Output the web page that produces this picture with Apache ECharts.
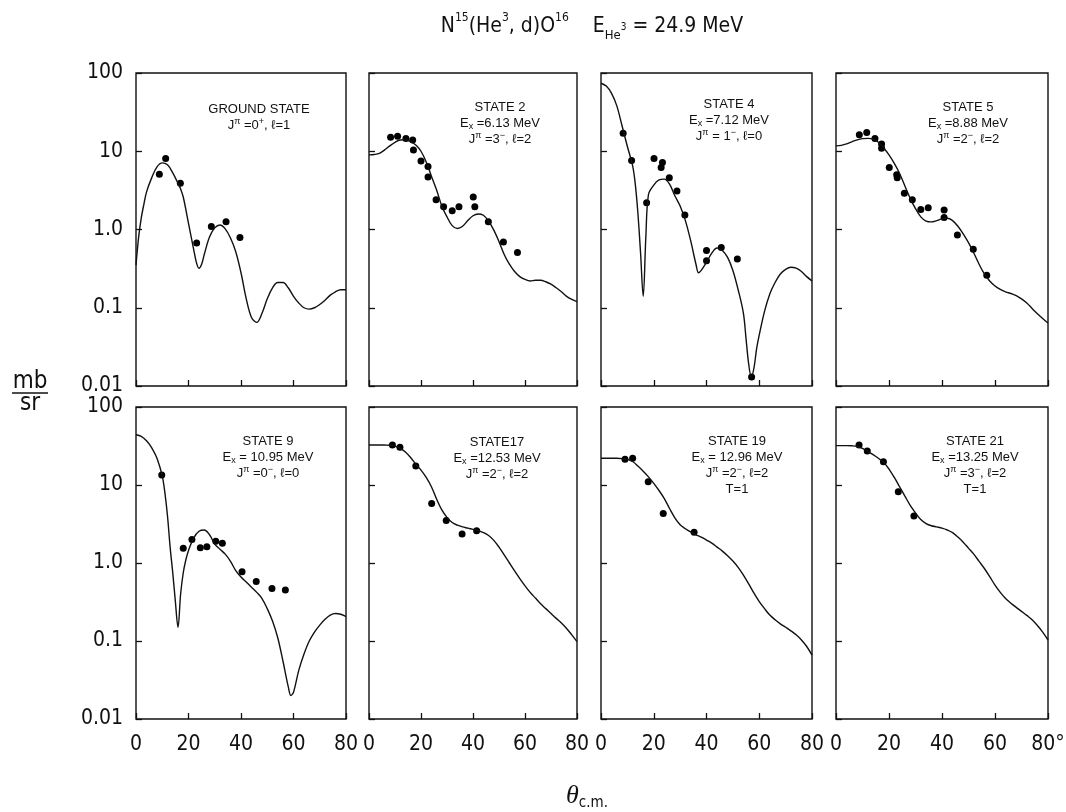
<!DOCTYPE html>
<html>
<head>
<meta charset="utf-8">
<script src="https://cdn.jsdelivr.net/npm/echarts@6/dist/echarts.min.js"></script>
<style>
  html, body { margin: 0; background: #fff; }
  #chart { width: 1066px; height: 812px; }
</style>
</head>
<body>
<div id="chart"></div>
<script>
// angle (deg, c.m.) vs d(sigma)/d(omega) in mb/sr
const gsCurve = [[0,0.35],[1,0.8],[2,1.4],[3,2.1],[4,3.0],[6,4.6],[8,6.3],[10,7.1],[12,6.7],[14,5.3],[16,3.9],[17,3.3],[18,2.6],[20,1.2],[22,0.55],[23,0.38],[24,0.32],[25,0.36],[26,0.48],[28,0.8],[30,1.05],[32,1.14],[34,1.02],[36,0.78],[38,0.52],[40,0.28],[42,0.13],[44,0.075],[46,0.065],[48,0.085],[50,0.13],[52,0.18],[54,0.21],[56,0.21],[58,0.18],[60,0.14],[62,0.115],[64,0.1],[66,0.096],[68,0.1],[70,0.11],[72,0.125],[74,0.145],[76,0.16],[78,0.17],[80,0.17]]
const gsPoints = [[8.9,5.1],[11.3,8.1],[16.9,3.9],[23.1,0.67],[28.7,1.09],[34.3,1.26],[39.6,0.79]]

const s2Curve = [[0,9.0],[2,9.1],[4,9.4],[6,10.4],[8,11.7],[10,13],[12,13.9],[14,14],[16,13.3],[18,12],[20,10],[22,7.3],[24,4.8],[26,3.2],[28,2.0],[30,1.45],[32,1.12],[34,1.03],[36,1.1],[38,1.3],[40,1.5],[42,1.58],[44,1.52],[46,1.28],[48,0.98],[50,0.7],[52,0.48],[54,0.36],[56,0.29],[58,0.25],[60,0.23],[62,0.22],[64,0.225],[66,0.225],[68,0.215],[70,0.2],[72,0.18],[74,0.16],[76,0.14],[78,0.128],[80,0.12]]
const s2Points = [[8.3,15.1],[11.0,15.5],[14.2,14.6],[16.8,13.9],[17.1,10.4],[20.0,7.5],[22.7,6.4],[22.7,4.7],[25.8,2.4],[28.7,1.95],[32.0,1.74],[34.6,1.95],[40.1,2.6],[40.7,1.95],[45.9,1.26],[51.7,0.69],[57.1,0.51]]

const s4Curve = [[0,74],[2,68],[4,55],[6,38],[8,21],[10,11.5],[12,6.5],[13,3.8],[14,1.6],[15,0.5],[16,0.14],[17,0.8],[18,2.8],[20,3.7],[22,4.3],[24,4.4],[26,3.8],[28,2.7],[30,2.0],[32,1.3],[34,0.72],[36,0.36],[37,0.28],[38,0.3],[40,0.38],[42,0.5],[44,0.58],[46,0.54],[48,0.44],[50,0.3],[52,0.17],[54,0.085],[55,0.04],[56,0.019],[57,0.013],[58,0.017],[59,0.03],[60,0.045],[62,0.09],[64,0.15],[66,0.21],[68,0.27],[70,0.31],[72,0.33],[74,0.32],[76,0.29],[78,0.25],[80,0.22]]
const s4Points = [[8.4,17],[11.6,7.6],[17.3,2.2],[20.1,8.1],[22.8,6.2],[23.3,7.2],[25.9,4.6],[28.8,3.1],[31.8,1.53],[40.0,0.54],[40.0,0.40],[45.6,0.59],[51.7,0.42],[57.1,0.013]]

const s5Curve = [[0,11.7],[2,11.9],[4,12.4],[6,13.2],[8,14],[10,14.5],[12,14.6],[14,14.3],[16,13],[18,11],[20,9],[22,7],[24,5.2],[26,3.6],[28,2.5],[30,1.85],[32,1.45],[34,1.28],[36,1.25],[38,1.3],[40,1.37],[42,1.39],[44,1.3],[46,1.1],[48,0.88],[50,0.68],[52,0.5],[54,0.36],[56,0.27],[58,0.22],[60,0.19],[62,0.172],[64,0.16],[66,0.152],[68,0.143],[70,0.13],[72,0.115],[74,0.098],[76,0.084],[78,0.073],[80,0.064]]
const s5Points = [[8.8,16.2],[11.6,17.3],[14.7,14.5],[17.2,12.4],[17.2,10.9],[20.1,6.2],[22.9,5.0],[23.1,4.6],[25.8,2.9],[28.8,2.4],[32.0,1.8],[34.8,1.9],[40.8,1.78],[40.8,1.42],[45.8,0.85],[51.8,0.56],[56.9,0.26]]

const s9Curve = [[0,44],[2,42],[4,37],[6,30],[8,22],[10,13],[11,8.0],[12,4.0],[13,1.6],[14,0.75],[15,0.32],[16,0.15],[17,0.4],[18,0.75],[19,1.1],[20,1.45],[22,2.1],[24,2.55],[26,2.65],[28,2.3],[30,1.75],[32,1.5],[34,1.3],[36,1.05],[38,0.8],[40,0.66],[42,0.57],[44,0.49],[46,0.42],[48,0.35],[50,0.26],[52,0.18],[54,0.11],[56,0.055],[58,0.026],[59,0.02],[60,0.022],[62,0.042],[64,0.068],[66,0.1],[68,0.13],[70,0.16],[72,0.19],[74,0.215],[76,0.225],[78,0.22],[80,0.205]]
const s9Points = [[9.8,13.4],[18.0,1.54],[21.3,2.0],[24.5,1.57],[27.0,1.62],[30.4,1.9],[32.9,1.79],[40.4,0.77],[45.8,0.58],[51.8,0.47],[56.9,0.45]]

const s17Curve = [[0,32.6],[2,32.6],[4,32.6],[6,32.5],[8,32.3],[10,31.5],[12,29.5],[14,26.5],[16,22.5],[18,18.5],[20,15.5],[22,12.5],[24,9.5],[26,6.6],[28,4.8],[30,3.85],[32,3.3],[34,3.05],[36,2.9],[38,2.8],[40,2.7],[42,2.6],[44,2.45],[46,2.25],[48,1.95],[50,1.6],[52,1.27],[54,1.0],[56,0.79],[58,0.63],[60,0.51],[62,0.42],[64,0.355],[66,0.3],[68,0.26],[70,0.225],[72,0.195],[74,0.17],[76,0.145],[78,0.12],[80,0.098]]
const s17Points = [[9.0,32.6],[11.9,30.4],[18.0,17.5],[24.1,5.8],[29.7,3.5],[35.8,2.35],[41.4,2.6]]

const s19Curve = [[0,22],[2,22],[4,22],[6,22],[8,21.8],[10,21.3],[12,20],[14,17.5],[16,15],[18,12.7],[20,10.5],[22,8.5],[24,6.7],[26,5.0],[28,3.8],[30,3.1],[32,2.75],[34,2.5],[36,2.3],[38,2.15],[40,1.97],[42,1.8],[44,1.6],[46,1.42],[48,1.24],[50,1.06],[52,0.88],[54,0.7],[56,0.54],[58,0.41],[60,0.32],[62,0.26],[64,0.215],[66,0.187],[68,0.166],[70,0.15],[72,0.135],[74,0.12],[76,0.103],[78,0.085],[80,0.066]]
const s19Points = [[9.1,21.4],[12.0,22],[17.9,11],[23.6,4.3],[35.3,2.47]]

const s21Curve = [[0,32],[2,32],[4,32],[6,31.8],[8,31.2],[10,29.5],[12,27],[14,24.5],[16,22],[18,19.5],[20,16],[22,12.5],[24,9.5],[26,7.2],[28,5.5],[30,4.4],[32,3.6],[34,3.2],[36,3.0],[38,2.9],[40,2.8],[42,2.65],[44,2.45],[46,2.15],[48,1.85],[50,1.55],[52,1.3],[54,1.05],[56,0.85],[58,0.67],[60,0.52],[62,0.42],[64,0.35],[66,0.305],[68,0.27],[70,0.24],[72,0.213],[74,0.187],[76,0.158],[78,0.13],[80,0.103]]
const s21Points = [[8.7,32.6],[11.8,27.3],[17.9,19.9],[23.5,8.2],[29.4,4.0]]

// panel captions
const gsLabel = ['GROUND STATE', 'J{sup|π} =0{sup|+}, ℓ=1']
const s2Label = ['STATE 2', 'E{sub|x} =6.13 MeV', 'J{sup|π} =3{sup|−}, ℓ=2']
const s4Label = ['STATE 4', 'E{sub|x} =7.12 MeV', 'J{sup|π} = 1{sup|−}, ℓ=0']
const s5Label = ['STATE 5', 'E{sub|x} =8.88 MeV', 'J{sup|π} =2{sup|−}, ℓ=2']
const s9Label = ['STATE 9', 'E{sub|x} = 10.95 MeV', 'J{sup|π} =0{sup|−}, ℓ=0']
const s17Label = ['STATE17', 'E{sub|x} =12.53 MeV', 'J{sup|π} =2{sup|−}, ℓ=2']
const s19Label = ['STATE 19', 'E{sub|x} = 12.96 MeV', 'J{sup|π} =2{sup|−}, ℓ=2', 'T=1']
const s21Label = ['STATE 21', 'E{sub|x} =13.25 MeV', 'J{sup|π} =3{sup|−}, ℓ=2', 'T=1']

const xTicks = [0, 20, 40, 60, 80]
const yTickLabels = ['0.01', '0.1', '1.0', '10', '100']

const panels = [
  { curve: gsCurve, points: gsPoints, label: gsLabel },
  { curve: s2Curve, points: s2Points, label: s2Label },
  { curve: s4Curve, points: s4Points, label: s4Label },
  { curve: s5Curve, points: s5Points, label: s5Label },
  { curve: s9Curve, points: s9Points, label: s9Label },
  { curve: s17Curve, points: s17Points, label: s17Label },
  { curve: s19Curve, points: s19Points, label: s19Label },
  { curve: s21Curve, points: s21Points, label: s21Label },
]

// layout (px)
const colLeft = [136, 369, 601, 836]
const colWidth = [210, 208, 211, 212]
const rowTop = [73, 407]
const rowHeight = [313, 312]
const captionX = [259, 500, 729, 968, 268, 497, 737, 975]
const captionY = [101, 99, 96, 99, 433, 434, 433, 433]

const NARROW = '"Liberation Sans Narrow", "DejaVu Sans Condensed", sans-serif'
const PLAIN = '"Liberation Sans", "DejaVu Sans", sans-serif'
const INK = '#111'

const chart = echarts.init(document.getElementById('chart'))

const grids = [], xAxes = [], yAxes = [], series = [], graphics = []

panels.forEach((p, i) => {
  const row = Math.floor(i / 4)
  const col = i % 4
  grids.push({
    show: true,
    left: colLeft[col],
    top: rowTop[row],
    width: colWidth[col],
    height: rowHeight[row],
    borderColor: INK,
    borderWidth: 1.4,
    backgroundColor: 'transparent',
    containLabel: false,
    outerBoundsMode: 'none',
  })
  xAxes.push({
    type: 'value',
    gridIndex: i,
    min: xTicks[0],
    max: xTicks[xTicks.length - 1],
    interval: 20,
    axisLine: { show: false },
    axisTick: { show: true, inside: true, length: 6, lineStyle: { color: INK, width: 1.3 } },
    splitLine: { show: false },
    axisLabel: {
      show: row === 1,
      margin: 15,
      color: INK,
      fontSize: 21,
      fontFamily: NARROW,
      formatter: (v) => (i === 7 && v === 80 ? '80°' : String(v)),
    },
  })
  yAxes.push({
    type: 'log',
    logBase: 10,
    gridIndex: i,
    min: 0.01,
    max: 100,
    axisLine: { show: false },
    axisTick: { show: true, inside: true, length: 6, lineStyle: { color: INK, width: 1.3 } },
    splitLine: { show: false },
    minorTick: { show: false },
    axisLabel: {
      show: col === 0,
      margin: 13,
      color: INK,
      fontSize: 21,
      fontFamily: NARROW,
      formatter: (v) => yTickLabels[Math.round(Math.log10(v)) + 2],
    },
  })
  series.push({
    type: 'line',
    xAxisIndex: i,
    yAxisIndex: i,
    data: p.curve,
    symbol: 'none',
    smooth: 0.35,
    lineStyle: { color: INK, width: 1.4 },
    silent: true,
  })
  series.push({
    type: 'scatter',
    xAxisIndex: i,
    yAxisIndex: i,
    data: p.points,
    symbol: 'circle',
    symbolSize: 7,
    itemStyle: { color: '#000', opacity: 1 },
    silent: true,
  })
  graphics.push({
    type: 'text',
    x: captionX[i],
    y: captionY[i],
    style: {
      text: p.label.join('\n'),
      align: 'center',
      verticalAlign: 'top',
      fontSize: 13,
      fontFamily: PLAIN,
      lineHeight: 16,
      fill: INK,
      rich: {
        sup: { fontSize: 9, lineHeight: 9, verticalAlign: 'top', fontFamily: PLAIN, fill: INK },
        sub: { fontSize: 9, lineHeight: 9, verticalAlign: 'bottom', fontFamily: PLAIN, fill: INK },
      },
    },
  })
})

// figure title
graphics.push({
  type: 'text',
  x: 592,
  y: 27,
  style: {
    text: 'N{sup|15}(He{sup|3}, d)O{sup|16}    E{sub|He}{ss|3} = 24.9 MeV',
    align: 'center',
    verticalAlign: 'middle',
    fontSize: 21,
    lineHeight: 30,
    fontFamily: NARROW,
    fill: INK,
    rich: {
      sup: { fontSize: 12, lineHeight: 13, verticalAlign: 'top', fontFamily: NARROW, fill: INK },
      sub: { fontSize: 13, lineHeight: 13, verticalAlign: 'bottom', fontFamily: NARROW, fill: INK },
      ss: { fontSize: 10, lineHeight: 24, verticalAlign: 'middle', fontFamily: NARROW, fill: INK },
    },
  },
})

// y unit: mb / sr
graphics.push(
  { type: 'text', x: 30, y: 382, style: { text: 'mb', align: 'center', verticalAlign: 'middle', fontSize: 24, fontFamily: NARROW, fill: INK } },
  { type: 'line', shape: { x1: 12, y1: 393, x2: 48, y2: 393 }, style: { stroke: INK, lineWidth: 1.5 } },
  { type: 'text', x: 30, y: 404, style: { text: 'sr', align: 'center', verticalAlign: 'middle', fontSize: 24, fontFamily: NARROW, fill: INK } },
)

// x unit: theta c.m.
graphics.push({
  type: 'text',
  x: 587,
  y: 796,
  style: {
    text: '{t|θ}{s|c.m.}',
    align: 'center',
    verticalAlign: 'middle',
    rich: {
      t: { fontSize: 26, fontStyle: 'italic', fontFamily: '"Liberation Serif", "DejaVu Serif", serif', lineHeight: 30, fill: INK },
      s: { fontSize: 15, fontFamily: NARROW, lineHeight: 14, verticalAlign: 'bottom', fill: INK },
    },
  },
})

chart.setOption({
  animation: false,
  backgroundColor: '#fff',
  grid: grids,
  xAxis: xAxes,
  yAxis: yAxes,
  series: series,
  graphic: graphics,
})
</script>
</body>
</html>
